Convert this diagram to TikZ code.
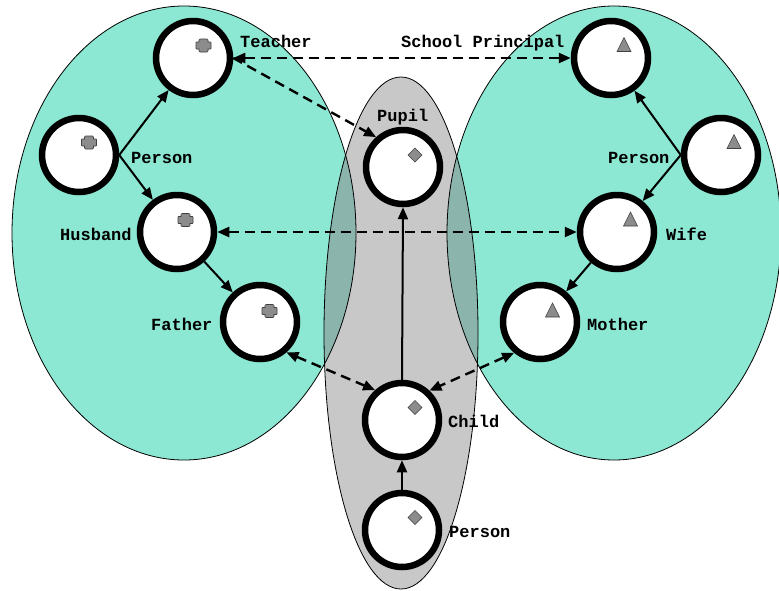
\documentclass[tikz,border=0pt]{standalone}
\usepackage{fontspec}
\setmonofont{Liberation Mono}
\usetikzlibrary{arrows.meta}
\definecolor{tealfill}{HTML}{8CE8D3}
\definecolor{grayfill}{HTML}{C8C8C8}
\definecolor{overfill}{HTML}{8AB4AC}
\definecolor{icongray}{HTML}{8C8C8C}
\begin{document}
\begin{tikzpicture}[x=1pt,y=-1pt,
  ent/.style={circle,draw,line width=6.5pt,fill=white,minimum size=74pt,inner sep=0pt},
  lab/.style={font=\ttfamily\bfseries\fontsize{17}{20}\selectfont,inner sep=0pt,anchor=base west},
  rel/.style={line width=2pt,-{Triangle[length=12pt,width=10pt]}},
  link/.style={line width=2.4pt,dash pattern=on 10pt off 6pt,
    {Triangle[length=12pt,width=10pt]}-{Triangle[length=12pt,width=10pt]}},
  onelink/.style={line width=2.4pt,dash pattern=on 10pt off 6pt,-{Triangle[length=12pt,width=10pt]}},
  iconst/.style={fill=icongray,draw=black!75,line width=0.6pt},
  crossicon/.pic={\draw[iconst] (-3.5,-6.5) -- (3.5,-6.5) -- (4.5,-5.5) -- (4.5,-3.5) -- (7,-3.5) -- (7.5,-3) -- (7.5,3) -- (7,3.5) -- (4.5,3.5) -- (4.5,5.5) -- (3.5,6.5) -- (-3.5,6.5) -- (-4.5,5.5) -- (-4.5,3.5) -- (-7,3.5) -- (-7.5,3) -- (-7.5,-3) -- (-7,-3.5) -- (-4.5,-3.5) -- (-4.5,-5.5) -- cycle;},
  diamondicon/.pic={\draw[iconst] (0,-7) -- (7,0) -- (0,7) -- (-7,0) -- cycle;},
  triicon/.pic={\draw[iconst] (0,-7.5) -- (7,6.5) -- (-7,6.5) -- cycle;},
  region/.style={draw=black,line width=0.8pt}
  ]
\useasboundingbox (0,0) rectangle (779,590);

% regions
\fill[tealfill] (184,233) ellipse [x radius=172, y radius=227];
\fill[tealfill] (614,233) ellipse [x radius=167, y radius=227];
\fill[grayfill] (401,333) ellipse [x radius=77, y radius=256];
\begin{scope}
  \clip (401,333) ellipse [x radius=77, y radius=256];
  \fill[overfill] (184,233) ellipse [x radius=172, y radius=227];
  \fill[overfill] (614,233) ellipse [x radius=167, y radius=227];
\end{scope}
\draw[region] (184,233) ellipse [x radius=172, y radius=227];
\draw[region] (614,233) ellipse [x radius=167, y radius=227];
\draw[region] (401,333) ellipse [x radius=77, y radius=256];

% entities
\node[ent] (teacher) at (193,58) {};
\node[ent] (personL) at (79,155) {};
\node[ent] (husband) at (177,232) {};
\node[ent] (father) at (260,322) {};
\node[ent] (pupil) at (403,167) {};
\node[ent] (child) at (402,420) {};
\node[ent] (personC) at (402,530) {};
\node[ent] (principal) at (611,58) {};
\node[ent] (personR) at (721,155) {};
\node[ent] (wife) at (617,232) {};
\node[ent] (mother) at (540,322) {};

% icons
\path (teacher.center) ++(10.5,-12.5) pic {crossicon};
\path (personL.center) ++(10,-12.5) pic {crossicon};
\path (husband.center) ++(8.5,-12) pic {crossicon};
\path (father.center) ++(9.5,-11) pic {crossicon};
\path (pupil.center) ++(12,-12) pic {diamondicon};
\path (child.center) ++(13,-12.5) pic {diamondicon};
\path (personC.center) ++(13,-12.5) pic {diamondicon};
\path (principal.center) ++(13,-13) pic {triicon};
\path (personR.center) ++(13,-13) pic {triicon};
\path (wife.center) ++(13.5,-12.5) pic {triicon};
\path (mother.center) ++(12.5,-11.5) pic {triicon};

% labels
\node[lab] (lteacher) at (240,47) {Teacher};
\node[lab] (lprincipal) at (401,47) {School Principal};
\node[lab] (lpersonL) at (131,163) {Person};
\node[lab] (lpupil) at (377,121) {Pupil};
\node[lab] (lhusband) at (60,240) {Husband};
\node[lab] (lfather) at (151,330) {Father};
\node[lab] (lpersonR) at (608,163) {Person};
\node[lab] (lwife) at (666,240) {Wife};
\node[lab] (lmother) at (587,330) {Mother};
\node[lab] (lchild) at (448,427) {Child};
\node[lab] (lpersonC) at (449,537) {Person};

% solid relations
\draw[rel] (personL.east) -- (teacher);
\draw[rel] (personL.east) -- (husband);
\draw[rel] (husband) -- (father);
\draw[rel] (personR.west) -- (principal);
\draw[rel] (personR.west) -- (wife);
\draw[rel] (wife) -- (mother);
\draw[rel] (personC) -- (child);
\draw[rel] (child.north) -- (pupil.south);

% dashed links
\draw[link] (teacher.east) -- (principal.west);
\draw[onelink] (teacher.east) -- (pupil.132);
\draw[link] (husband.east) -- (wife.west);
\draw[link] (father.-49) -- (child.132);
\draw[link] (mother.-130) -- (child.47);
\end{tikzpicture}
\end{document}
